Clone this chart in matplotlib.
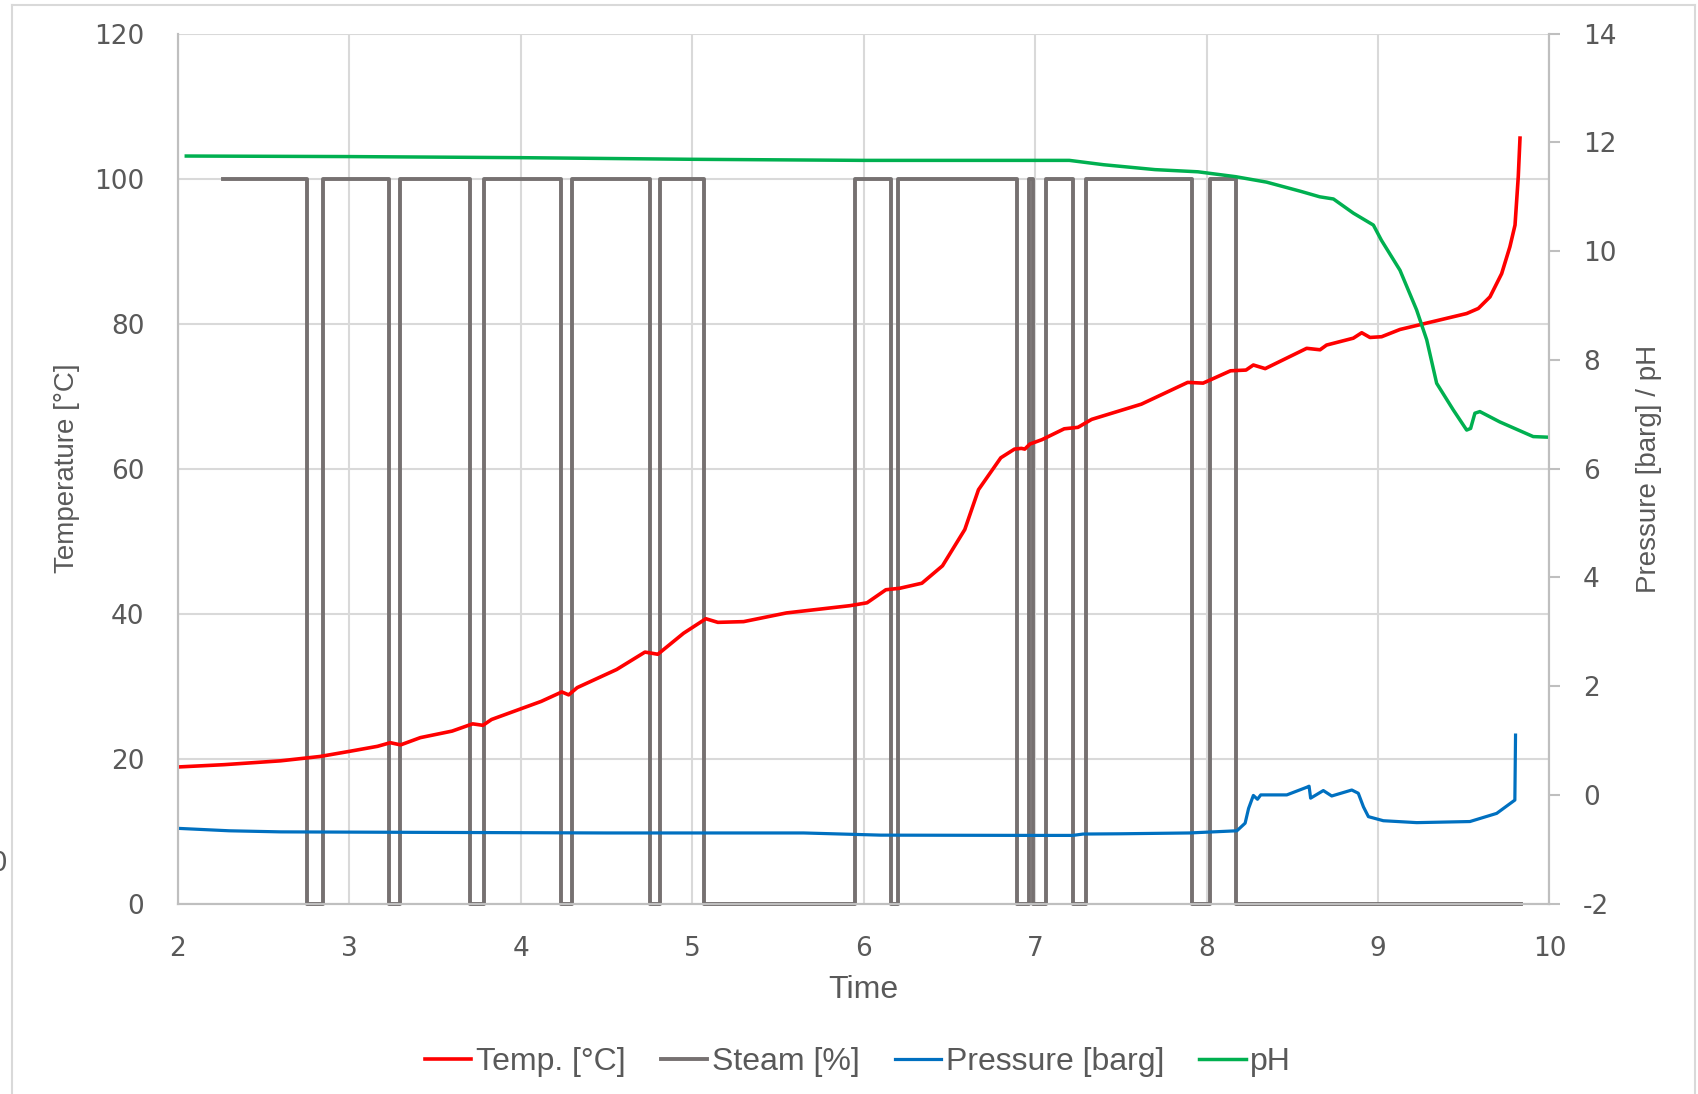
import matplotlib
matplotlib.use("Agg")
import matplotlib.pyplot as plt
from matplotlib.lines import Line2D

# ---------------------------------------------------------------
# Data
# ---------------------------------------------------------------
temp_t = [2.0, 2.27, 2.60, 2.83, 3.0, 3.165, 3.24, 3.30, 3.415, 3.60,
          3.72, 3.78, 3.83, 4.12, 4.24, 4.28, 4.33, 4.56, 4.725, 4.80,
          4.95, 5.08, 5.15, 5.30, 5.55, 5.92, 6.02, 6.13, 6.21, 6.34,
          6.46, 6.59, 6.67, 6.80, 6.88, 6.92, 6.94, 6.97, 7.04, 7.17,
          7.25, 7.33, 7.62, 7.89, 7.98, 8.14, 8.23, 8.273, 8.342, 8.584,
          8.662, 8.70, 8.856, 8.905, 8.953, 9.021, 9.128, 9.517, 9.585, 9.653,
          9.721, 9.769, 9.799, 9.818, 9.828]
temp_v = [18.85, 19.17, 19.7, 20.3, 21.0, 21.7, 22.2, 21.9, 22.9, 23.8,
          24.8, 24.6, 25.4, 27.9, 29.2, 28.8, 29.8, 32.3, 34.7, 34.4,
          37.3, 39.3, 38.8, 38.9, 40.1, 41.1, 41.5, 43.3, 43.5, 44.2,
          46.6, 51.6, 57.1, 61.5, 62.7, 62.8, 62.7, 63.4, 64.0, 65.5,
          65.7, 66.8, 68.9, 71.9, 71.8, 73.5, 73.6, 74.3, 73.8, 76.6,
          76.4, 77.05, 78.0, 78.75, 78.1, 78.2, 79.2, 81.4, 82.1, 83.7,
          86.9, 90.6, 93.6, 100.3, 105.6]

# steam valve switching times (on = 100 %, off = 0 %)
steam_t = [2.263, 2.753, 2.847, 3.231, 3.298, 3.706, 3.788, 4.235, 4.301, 4.754,
           4.815, 5.071, 5.952, 6.157, 6.198, 6.893, 6.967, 6.990, 7.063, 7.219,
           7.297, 7.915, 8.020, 8.171, 9.835]
steam_v = [100, 0, 100, 0, 100, 0, 100, 0, 100, 0,
           100, 0, 100, 0, 100, 0, 100, 0, 100, 0,
           100, 0, 100, 0, 0]

pres_t = [2.0, 2.3, 2.6, 3.5, 4.5, 5.65, 6.1, 7.0, 7.22, 7.28,
          7.5, 7.9, 8.177, 8.225, 8.245, 8.273, 8.297, 8.316, 8.468, 8.584,
          8.598, 8.607, 8.681, 8.730, 8.847, 8.885, 8.915, 8.944, 9.031, 9.226,
          9.536, 9.692, 9.798, 9.802]
pres_v = [-0.615, -0.66, -0.68, -0.69, -0.70, -0.70, -0.74, -0.745, -0.745, -0.72,
          -0.715, -0.70, -0.66, -0.52, -0.25, -0.01, -0.08, 0.0, 0.0, 0.14,
          0.16, -0.06, 0.08, -0.02, 0.09, 0.03, -0.22, -0.40, -0.475, -0.51,
          -0.49, -0.34, -0.095, 1.10]

ph_t = [2.05, 3.0, 4.0, 5.0, 6.0, 7.0, 7.2, 7.4, 7.7, 7.95,
        8.17, 8.35, 8.55, 8.66, 8.74, 8.856, 8.973, 9.02, 9.128, 9.225,
        9.284, 9.342, 9.439, 9.517, 9.54, 9.565, 9.594, 9.71, 9.905, 9.983]
ph_v = [11.75, 11.74, 11.72, 11.69, 11.67, 11.67, 11.67, 11.59, 11.50, 11.46,
        11.37, 11.27, 11.10, 11.0, 10.96, 10.70, 10.48, 10.20, 9.65, 8.92,
        8.37, 7.57, 7.08, 6.71, 6.74, 7.02, 7.05, 6.86, 6.59, 6.58]

x_ticks = [2, 3, 4, 5, 6, 7, 8, 9, 10]
temp_ticks = [0, 20, 40, 60, 80, 100, 120]
right_ticks = [-2, 0, 2, 4, 6, 8, 10, 12, 14]

# ---------------------------------------------------------------
# Styling
# ---------------------------------------------------------------
plt.rcParams['axes.unicode_minus'] = False
TXT = '#595959'
GRID = '#d9d9d9'
AXIS = '#bfbfbf'
label_font = ['Liberation Sans', 'DejaVu Sans']
tick_size = 19
label_size = 23
ylabel_size = 20

fig = plt.figure(figsize=(16.99, 10.94), dpi=100)
ax1 = fig.add_axes([0.1046, 0.174, 0.8074, 0.7952])
ax2 = ax1.twinx()

# outer chart-area frame (like the Excel chart border)
for xs, ys in [([0.007, 0.007], [0.0, 0.9954]),
               ([0.007, 0.9976], [0.9954, 0.9954]),
               ([0.9976, 0.9976], [0.9954, 0.0])]:
    fig.add_artist(Line2D(xs, ys, transform=fig.transFigure, color=GRID, lw=1.5))

c_temp, c_steam, c_pres, c_ph = '#ff0000', '#767171', '#0070c0', '#00b050'

ax1.plot(steam_t, steam_v, drawstyle='steps-post', color=c_steam, lw=2.8,
         clip_on=False, zorder=3, label='Steam [%]')
ax1.plot(temp_t, temp_v, color=c_temp, lw=2.6, zorder=4, label='Temp. [°C]')
ax2.plot(pres_t, pres_v, color=c_pres, lw=2.3, label='Pressure [barg]')
ax2.plot(ph_t, ph_v, color=c_ph, lw=2.5, label='pH')

ax1.set_xlim(2, 10)
ax1.set_ylim(0, 120)
ax2.set_ylim(-2, 14)
ax1.set_xticks(x_ticks)
ax1.set_yticks(temp_ticks)
ax2.set_yticks(right_ticks)

ax1.grid(True, color=GRID, lw=1.5)
ax1.set_axisbelow(True)

for ax in (ax1, ax2):
    ax.spines['top'].set_visible(False)
    for s in ('left', 'right', 'bottom'):
        ax.spines[s].set_color(AXIS)
        ax.spines[s].set_linewidth(1.5)

ax1.tick_params(axis='x', length=0, pad=23, labelsize=tick_size, labelcolor=TXT)
ax1.tick_params(axis='y', length=0, pad=24, labelsize=tick_size, labelcolor=TXT)
ax2.tick_params(axis='y', length=8, width=1.5, color=AXIS, pad=16,
                labelsize=tick_size, labelcolor=TXT)

ax1.set_xlabel('Time', fontsize=label_size, color=TXT, family=label_font, labelpad=10)
ax1.set_ylabel('Temperature [°C]', fontsize=ylabel_size, color=TXT, family=label_font, labelpad=10)
ax2.set_ylabel('Pressure [barg] / pH', fontsize=ylabel_size, color=TXT, family=label_font, labelpad=14)

# clipped label peeking in at the very left edge of the screenshot
fig.text(-0.001, 0.21, '0', ha='center', va='center', fontsize=tick_size, color=TXT)

h1, l1 = ax1.get_legend_handles_labels()
h2, l2 = ax2.get_legend_handles_labels()
order = [1, 0]
handles = [h1[i] for i in order] + h2
labels = [l1[i] for i in order] + l2
leg = fig.legend(handles, labels, loc='center', bbox_to_anchor=(0.505, 0.029),
                 ncol=4, frameon=False, handlelength=1.45, handletextpad=0.15,
                 columnspacing=1.1, prop={'family': label_font, 'size': label_size})
for t in leg.get_texts():
    t.set_color(TXT)

fig.savefig('out.png', dpi=100)
